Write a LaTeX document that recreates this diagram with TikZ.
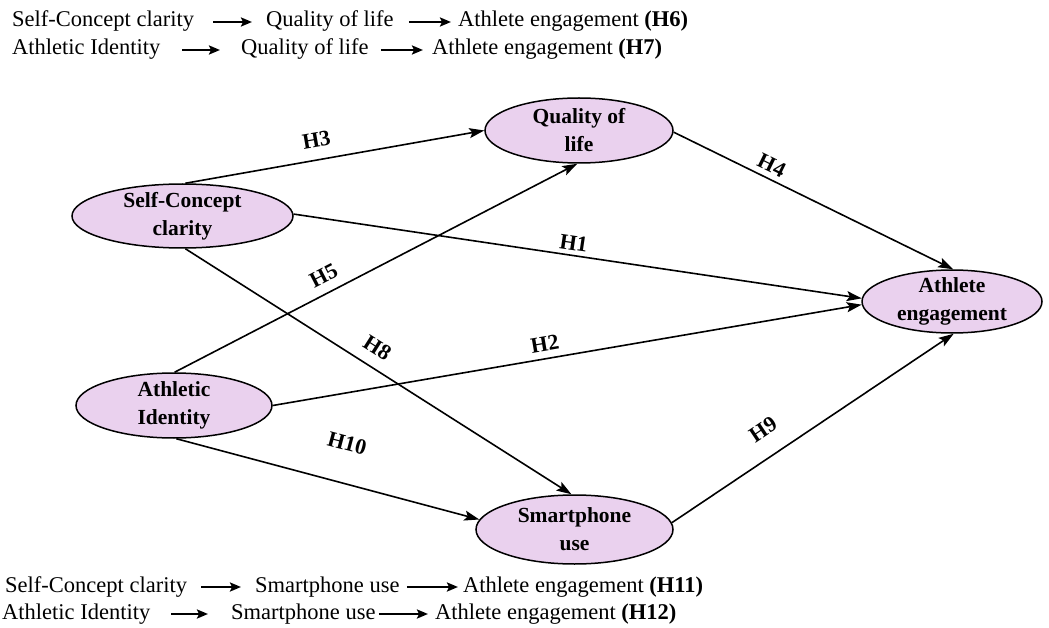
\documentclass[tikz,border=0pt]{standalone}
\usepackage{fontspec}
\setmainfont{Liberation Serif}
\usetikzlibrary{arrows.meta,shapes.geometric}
\definecolor{lilac}{RGB}{234,209,238}

\begin{document}
\begin{tikzpicture}[x=1pt,y=-1pt,
  main node/.style={ellipse,draw,line width=1.5pt,fill=lilac,inner xsep=0pt,inner ysep=-6pt,
    align=center,font=\fontsize{21.5}{28}\selectfont\bfseries},
  hyp/.style={line width=1.6pt,-{Stealth[length=15pt,width=10pt,inset=3pt]}},
  txt/.style={anchor=base west,inner sep=0pt,text height=15pt,text depth=5pt,
    font=\fontsize{22.5}{26}\selectfont},
  txtarrow/.style={line width=2.6pt,-{Stealth[length=11pt,width=9pt,inset=2pt]}}]
\useasboundingbox (0,0) rectangle (1049,628);
%Self-Concept clarity
  \node[main node,minimum width=221pt,minimum height=64pt] (sc) at (182.5,216) {Self-Concept\\clarity};
%Athletic Identity
  \node[main node,minimum width=196pt,minimum height=65pt] (ai) at (174,405.5) {Athletic\\Identity};
%Quality of life
  \node[main node,minimum width=188pt,minimum height=65pt] (qol) at (579,130.5) {Quality of\\life};
%Smartphone use
  \node[main node,minimum width=197pt,minimum height=69pt] (su) at (574.5,529.5) {Smartphone\\use};
%Athlete engagement
  \node[main node,minimum width=180pt,minimum height=63pt] (ae) at (952,301.5) {Athlete\\engagement};
%paths
  \path[hyp,every node/.style={font=\fontsize{22}{24}\selectfont\bfseries,sloped}]
    (sc.85) edge node[pos=0.45,above=8pt] {H3} (qol.west)
    (sc.1) edge node[pos=0.49,above=1pt] {H1} (ae.178)
    (sc.-85) edge node[pos=0.47,above=8pt] {H8} (su.95)
    (qol.-1) edge node[pos=0.33,above=2pt] {H4} (ae.88)
    (ai.89) edge node[pos=0.39,above=6pt] {H5} (qol.-93)
    (ai.0) edge node[pos=0.466,above=3pt] {H2} (ae.182)
    (ai.-86) edge node[pos=0.53,above=28pt] {H10} (su.174)
    (su.4) edge node[pos=0.376,above=15pt] {H9} (ae.-87);
%mediation (top)
  \node[txt] (scc1) at (12,27) {Self-Concept clarity};
  \node[txt] (qol1) at (266,27) {Quality of life};
  \node[txt] (ae1) at (458,27) {Athlete engagement \textbf{(H6)}};
  \node[txt] (ai2) at (12,55) {Athletic Identity};
  \node[txt] (qol2) at (241,55) {Quality of life};
  \node[txt] (ae2) at (432,55) {Athlete engagement \textbf{(H7)}};
%mediation (bottom)
  \node[txt] (scc3) at (5,592) {Self-Concept clarity};
  \node[txt] (su3) at (255,592) {Smartphone use};
  \node[txt] (ae3) at (463,592) {Athlete engagement \textbf{(H11)}};
  \node[txt] (ai4) at (2,619) {Athletic Identity};
  \node[txt] (su4) at (231,619) {Smartphone use};
  \node[txt] (ae4) at (435,619) {Athlete engagement \textbf{(H12)}};
  \path[txtarrow]
    (scc1) edge[shorten <=19pt,shorten >=14pt] (qol1)
    (qol1) edge[shorten <=15pt,shorten >=7pt] (ae1)
    (ai2) edge[shorten <=22pt,shorten >=21pt] (qol2)
    (qol2) edge[shorten <=12pt,shorten >=9pt] (ae2)
    (scc3) edge[shorten <=14pt,shorten >=14pt] (su3)
    (su3) edge[shorten <=7pt,shorten >=5pt] (ae3)
    (ai4) edge[shorten <=21pt,shorten >=23pt] (su4)
    (su4) edge[shorten <=3pt,shorten >=7pt] (ae4);
\end{tikzpicture}
\end{document}
